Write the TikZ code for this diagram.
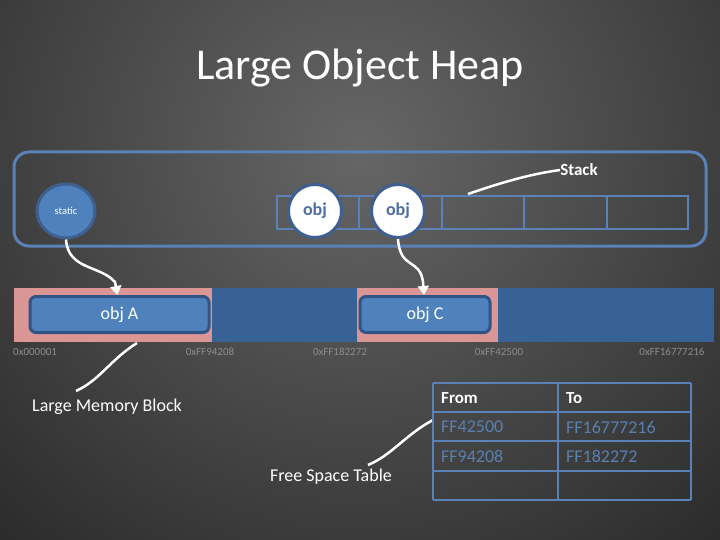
\documentclass[tikz,border=0pt]{standalone}
\usepackage{fontspec}
\setmainfont{Carlito}
\usetikzlibrary{arrows.meta,shapes.geometric}
\definecolor{frameblue}{HTML}{5A82B8}
\definecolor{objfill}{HTML}{4F81BD}
\definecolor{objline}{HTML}{2F5485}
\definecolor{circline}{HTML}{3E5F8F}
\definecolor{heappink}{HTML}{D99694}
\definecolor{heapblue}{HTML}{386196}
\definecolor{addrgray}{HTML}{8C8C8C}
\definecolor{tabtext}{HTML}{5A80B0}
\definecolor{objtext}{HTML}{4F6FA0}
\tikzset{
  frame/.style={draw=frameblue,line width=3pt},
  stackcell/.style={draw=frameblue,line width=2.5pt},
  refcirc/.style={circle,draw=circline,fill=white,line width=3pt,minimum size=53pt,inner sep=0pt,text=objtext,font=\fontsize{18}{18}\selectfont\bfseries},
  staticcirc/.style={ellipse,draw=circline,fill=objfill,line width=3pt,minimum width=58pt,minimum height=54pt,inner sep=0pt,text=white,font=\fontsize{10.5}{10.5}\selectfont},
  objbox/.style={rectangle,rounded corners=6pt,draw=objline,fill=objfill,line width=3pt,inner sep=0pt,text=white,font=\fontsize{18}{18}\selectfont},
  addr/.style={text=addrgray,font=\fontsize{11}{11}\selectfont,inner sep=0pt},
  callout/.style={draw=white,line width=2.5pt},
  refarrow/.style={draw=white,line width=2.5pt,-{Triangle[length=9pt,width=11pt]}},
  lbl/.style={text=white,font=\fontsize{18}{18}\selectfont,inner sep=0pt},
  tabline/.style={draw=frameblue,line width=2.5pt},
  tabhead/.style={text=white,font=\fontsize{17}{17}\selectfont\bfseries,anchor=west,inner sep=0pt},
  tabcell/.style={text=tabtext,font=\fontsize{18}{18}\selectfont,anchor=west,inner sep=0pt}
}
\begin{document}
\begin{tikzpicture}[x=1pt,y=-1pt]
\useasboundingbox (0,0) rectangle (720,540);
\clip (0,0) rectangle (720,540);
\shade[inner color=black!60,outer color=black!85] (-220,-420) rectangle (940,720);
% title
\node[text=white,font=\fontsize{44}{44}\selectfont,inner sep=0pt] (title) at (360,68) {Large Object Heap};
% stack frame
\draw[frame,rounded corners=15pt] (14,152) rectangle (706,246);
\foreach \a/\b [count=\i] in {277/359,359/442,442/524,524/607,607/688}
  \draw[stackcell] (\a,196) rectangle (\b,229);
\node[staticcirc] (static) at (66,211) {static};
\node[refcirc] (obj1) at (315,211) {obj};
\node[refcirc] (obj2) at (398,211) {obj};
\node[text=white,font=\fontsize{17}{17}\selectfont\bfseries,inner sep=0pt] (stack) at (579,170) {Stack};
\coordinate (stackpt) at (468,194);
\draw[callout] (stackpt) .. controls (500,183) and (530,174) .. (stack.west);
% heap bar
\fill[heappink] (14,288) rectangle (212,342);
\fill[heapblue] (212,288) rectangle (357,342);
\fill[heappink] (357,288) rectangle (498,342);
\fill[heapblue] (498,288) rectangle (714,342);
\node[objbox,minimum width=179pt,minimum height=36pt] (objA) at (119.5,314.5) {obj A};
\node[objbox,minimum width=130pt,minimum height=36pt] (objC) at (425,314.5) {obj C};
% addresses
\node[addr,anchor=west] (a1) at (13,352) {0x000001};
\node[addr] (a2) at (210,352) {0xFF94208};
\node[addr] (a3) at (340,352) {0xFF182272};
\node[addr] (a4) at (499,352) {0xFF42500};
\node[addr] (a5) at (672,352) {0xFF16777216};
% arrows
\draw[refarrow] (static.south) .. controls (68,270) and (100,265) .. (115,282) -- ([xshift=-2pt]objA.north);
\draw[refarrow] (obj2.south) .. controls (400,270) and (420,258) .. (423,282) -- ([xshift=-1pt]objC.north);
% large memory block
\node[lbl] (lmb) at (107,407) {Large Memory Block};
\coordinate (lmbtop) at (137,343);
\coordinate (lmbend) at (76,391);
\draw[callout] (lmbend) .. controls (100,380) and (110,360) .. (lmbtop);
% free space table
\node[lbl] (fst) at (331,477) {Free Space Table};
\coordinate (fstend) at (368,465);
\draw[callout] (fstend) .. controls (392,455) and (405,435) .. (433,420);
% table
\foreach \y in {383,412,441,471,500} \draw[tabline] (433,\y) -- (691,\y);
\foreach \x in {433,558,691} \draw[tabline] (\x,383) -- (\x,500);
\node[tabhead] (h1) at (441,398) {From};
\node[tabhead] (h2) at (566,398) {To};
\node[tabcell] (c11) at (441,427) {FF42500};
\node[tabcell] (c12) at (566,427) {FF16777216};
\node[tabcell] (c21) at (441,456) {FF94208};
\node[tabcell] (c22) at (566,456) {FF182272};
\end{tikzpicture}
\end{document}
